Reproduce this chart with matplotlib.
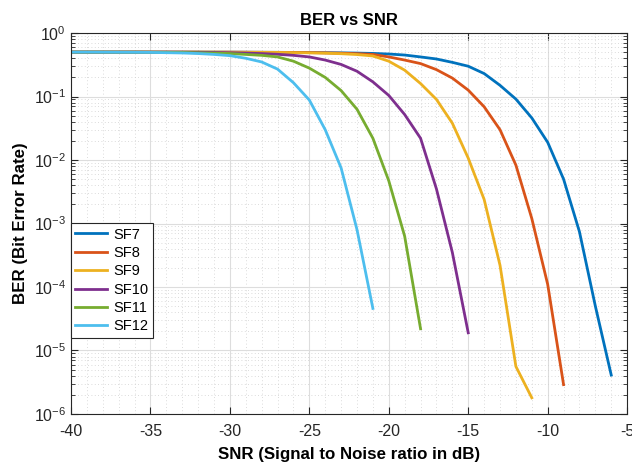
'''
BER vs SNR curves for LoRa spreading factors SF7..SF12
'''
import matplotlib
matplotlib.use('Agg')
import matplotlib.pyplot as plt
from matplotlib.ticker import MultipleLocator, LogLocator, NullFormatter

import numpy as np

plt.rcParams['font.family'] = ['Liberation Sans', 'DejaVu Sans']
plt.rcParams['axes.unicode_minus'] = False

# SNR axis (dB), every curve starts at -40 dB and stops at its last value
snr = np.arange(-40, -5)  # -40 .. -6

# BER per spreading factor
sf7 = [0.5, 0.5, 0.5, 0.5, 0.5, 0.5, 0.5, 0.5, 0.5, 0.499,
       0.499, 0.498, 0.497, 0.496, 0.495, 0.493, 0.49, 0.487, 0.483, 0.477,
       0.467, 0.45, 0.42, 0.39, 0.345, 0.30, 0.23, 0.15, 0.091, 0.046,
       0.019, 5.0e-3, 7.4e-4, 5.0e-5, 4.1e-6]
sf8 = [0.5, 0.5, 0.5, 0.5, 0.5, 0.5, 0.5, 0.5, 0.5, 0.499,
       0.499, 0.498, 0.497, 0.496, 0.494, 0.491, 0.487, 0.481, 0.473, 0.46,
       0.42, 0.375, 0.33, 0.265, 0.195, 0.126, 0.069, 0.030, 8.3e-3, 1.2e-3,
       1.1e-4, 2.9e-6]
sf9 = [0.5, 0.5, 0.5, 0.5, 0.5, 0.5, 0.5, 0.5, 0.499, 0.499,
       0.498, 0.497, 0.496, 0.494, 0.491, 0.487, 0.481, 0.472, 0.458, 0.435,
       0.36, 0.26, 0.16, 0.09, 0.038, 0.0107, 2.4e-3, 2.2e-4, 5.6e-6, 1.8e-6]
sf10 = [0.5, 0.5, 0.5, 0.5, 0.5, 0.499, 0.499, 0.498, 0.496, 0.494,
        0.489, 0.483, 0.474, 0.462, 0.445, 0.42, 0.375, 0.32, 0.25, 0.17,
        0.104, 0.052, 0.022, 3.5e-3, 3.5e-4, 1.9e-5]
sf11 = [0.5, 0.5, 0.5, 0.499, 0.499, 0.498, 0.496, 0.494, 0.488, 0.483,
        0.475, 0.46, 0.445, 0.42, 0.36, 0.28, 0.20, 0.124, 0.063, 0.022,
        4.7e-3, 6.3e-4, 2.2e-5]
sf12 = [0.5, 0.5, 0.499, 0.498, 0.497, 0.495, 0.49, 0.485, 0.475, 0.46,
        0.44, 0.40, 0.35, 0.27, 0.165, 0.088, 0.030, 7.5e-3, 8.0e-4, 4.6e-5]

curves = [sf7, sf8, sf9, sf10, sf11, sf12]
labels = ['SF7', 'SF8', 'SF9', 'SF10', 'SF11', 'SF12']
colors = ['#0072BD', '#D95319', '#EDB120', '#7E2F8E', '#77AC30', '#4DBEEE']

fig = plt.figure(figsize=(6.32, 4.65), dpi=100)
ax = fig.add_axes([0.1123, 0.1097, 0.880, 0.8193])

for ber, lab, col in zip(curves, labels, colors):
    ax.semilogy(snr[:len(ber)], ber, color=col, linewidth=2, label=lab)

ax.set_xlim(-40, -5)
ax.set_ylim(1e-6, 1)
ax.xaxis.set_major_locator(MultipleLocator(5))
ax.xaxis.set_minor_locator(MultipleLocator(1))
ax.yaxis.set_major_locator(LogLocator(base=10, numticks=10))
ax.yaxis.set_minor_locator(LogLocator(base=10, subs=np.arange(2, 10), numticks=10))
ax.yaxis.set_minor_formatter(NullFormatter())

# MATLAB-like grid and box
ax.grid(True, which='major', color='#dddddd', linewidth=0.8, linestyle='-')
ax.grid(True, which='minor', color='#cfcfcf', linewidth=0.6, linestyle=(0, (1, 3)))
ax.set_axisbelow(True)
ax.tick_params(which='both', direction='in', top=True, right=True,
               colors='#262626', labelsize=11.5)
ax.tick_params(axis='x', which='major', pad=7)
ax.tick_params(axis='x', which='minor', length=0)
ax.tick_params(which='major', length=5)
ax.tick_params(axis='y', which='minor', length=3)
for s in ax.spines.values():
    s.set_color('#262626')
    s.set_linewidth(0.8)

ax.set_title('BER vs SNR', fontsize=12, fontweight='bold', pad=6)
ax.set_xlabel('SNR (Signal to Noise ratio in dB)', fontsize=12.2,
              fontweight='bold', labelpad=6)
ax.set_ylabel('BER (Bit Error Rate)', fontsize=12.2, fontweight='bold')

leg = ax.legend(loc='lower left', bbox_to_anchor=(0, 0.2), borderaxespad=0,
                fontsize=10.5, fancybox=False, framealpha=1,
                handlelength=2.2, labelspacing=0.3, borderpad=0.3,
                handletextpad=0.4)
leg.get_frame().set_edgecolor('#262626')
leg.get_frame().set_linewidth(0.8)

fig.savefig('out.png', dpi=100)
